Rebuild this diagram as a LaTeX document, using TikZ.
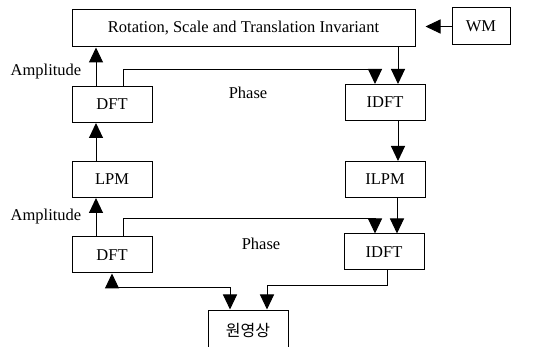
\documentclass[tikz,border=0pt]{standalone}
\usepackage{fontspec}
\setmainfont{Liberation Serif}
\newfontfamily\krfont{Noto Sans CJK KR}
\usetikzlibrary{arrows.meta}

\begin{document}
\begin{tikzpicture}[x=1pt, y=-1pt, font=\fontsize{16.5}{19}\selectfont, >={Triangle[length=15pt, width=14pt]}, line width=1pt]
	\tikzstyle{block} = [rectangle, draw=black, fill=white, minimum width=80pt, minimum height=36pt, inner sep=0pt]
	\clip (0,0) rectangle (546,347);

	\node[block, minimum width=343pt, minimum height=37pt] (rsti) at (243.5,28.5) {Rotation, Scale and Translation Invariant};
	\node[block, minimum width=58pt, minimum height=37pt] (wm) at (481,26.5) {WM};

	\foreach \name/\txt/\x/\y in {dfta/DFT/112/104.5, idfta/IDFT/385/102.5, lpm/LPM/112/179.5, ilpm/ILPM/385/179.5, dftb/DFT/112/255, idftb/IDFT/384/252}
		\node[block] (\name) at (\x, \y) {\txt};
	\node[block, minimum height=40pt, font=\fontsize{16}{19}\krfont] (orig) at (248,330) {원영상};

	\node (ampa) at (46,72) {Amplitude};
	\node (ampb) at (46,217) {Amplitude};
	\node (phasea) at (248,93) {Phase};
	\node (phaseb) at (261,244) {Phase};

	\draw[->, shorten >=10pt] (wm.west) -- (wm.west -| rsti.east);

	\foreach \from/\to in {dfta/rsti, lpm/dfta, dftb/lpm}
		\draw[->] ([xshift=-16pt]\from.north) -- ([xshift=-16pt]\from.north |- \to.south);

	\foreach \from/\to in {rsti/idfta, idfta/ilpm, ilpm/idftb}
		\draw[->] ([xshift=13pt]\to.north |- \from.south) -- ([xshift=13pt]\to.north);

	\draw[->] ([xshift=11pt]dfta.north) -- ++(0,-16.5) -| ([xshift=-10pt]idfta.north);
	\draw[->] ([xshift=11pt]dftb.north) -- ++(0,-18) -| ([xshift=-9pt]idftb.north);

	\draw[<->] (dftb.south) -- ++(0,14) -| ([xshift=-18pt]orig.north);
	\draw[->] ([xshift=3pt]idftb.south) -- ++(0,15) -| ([xshift=19pt]orig.north);
\end{tikzpicture}
\end{document}
